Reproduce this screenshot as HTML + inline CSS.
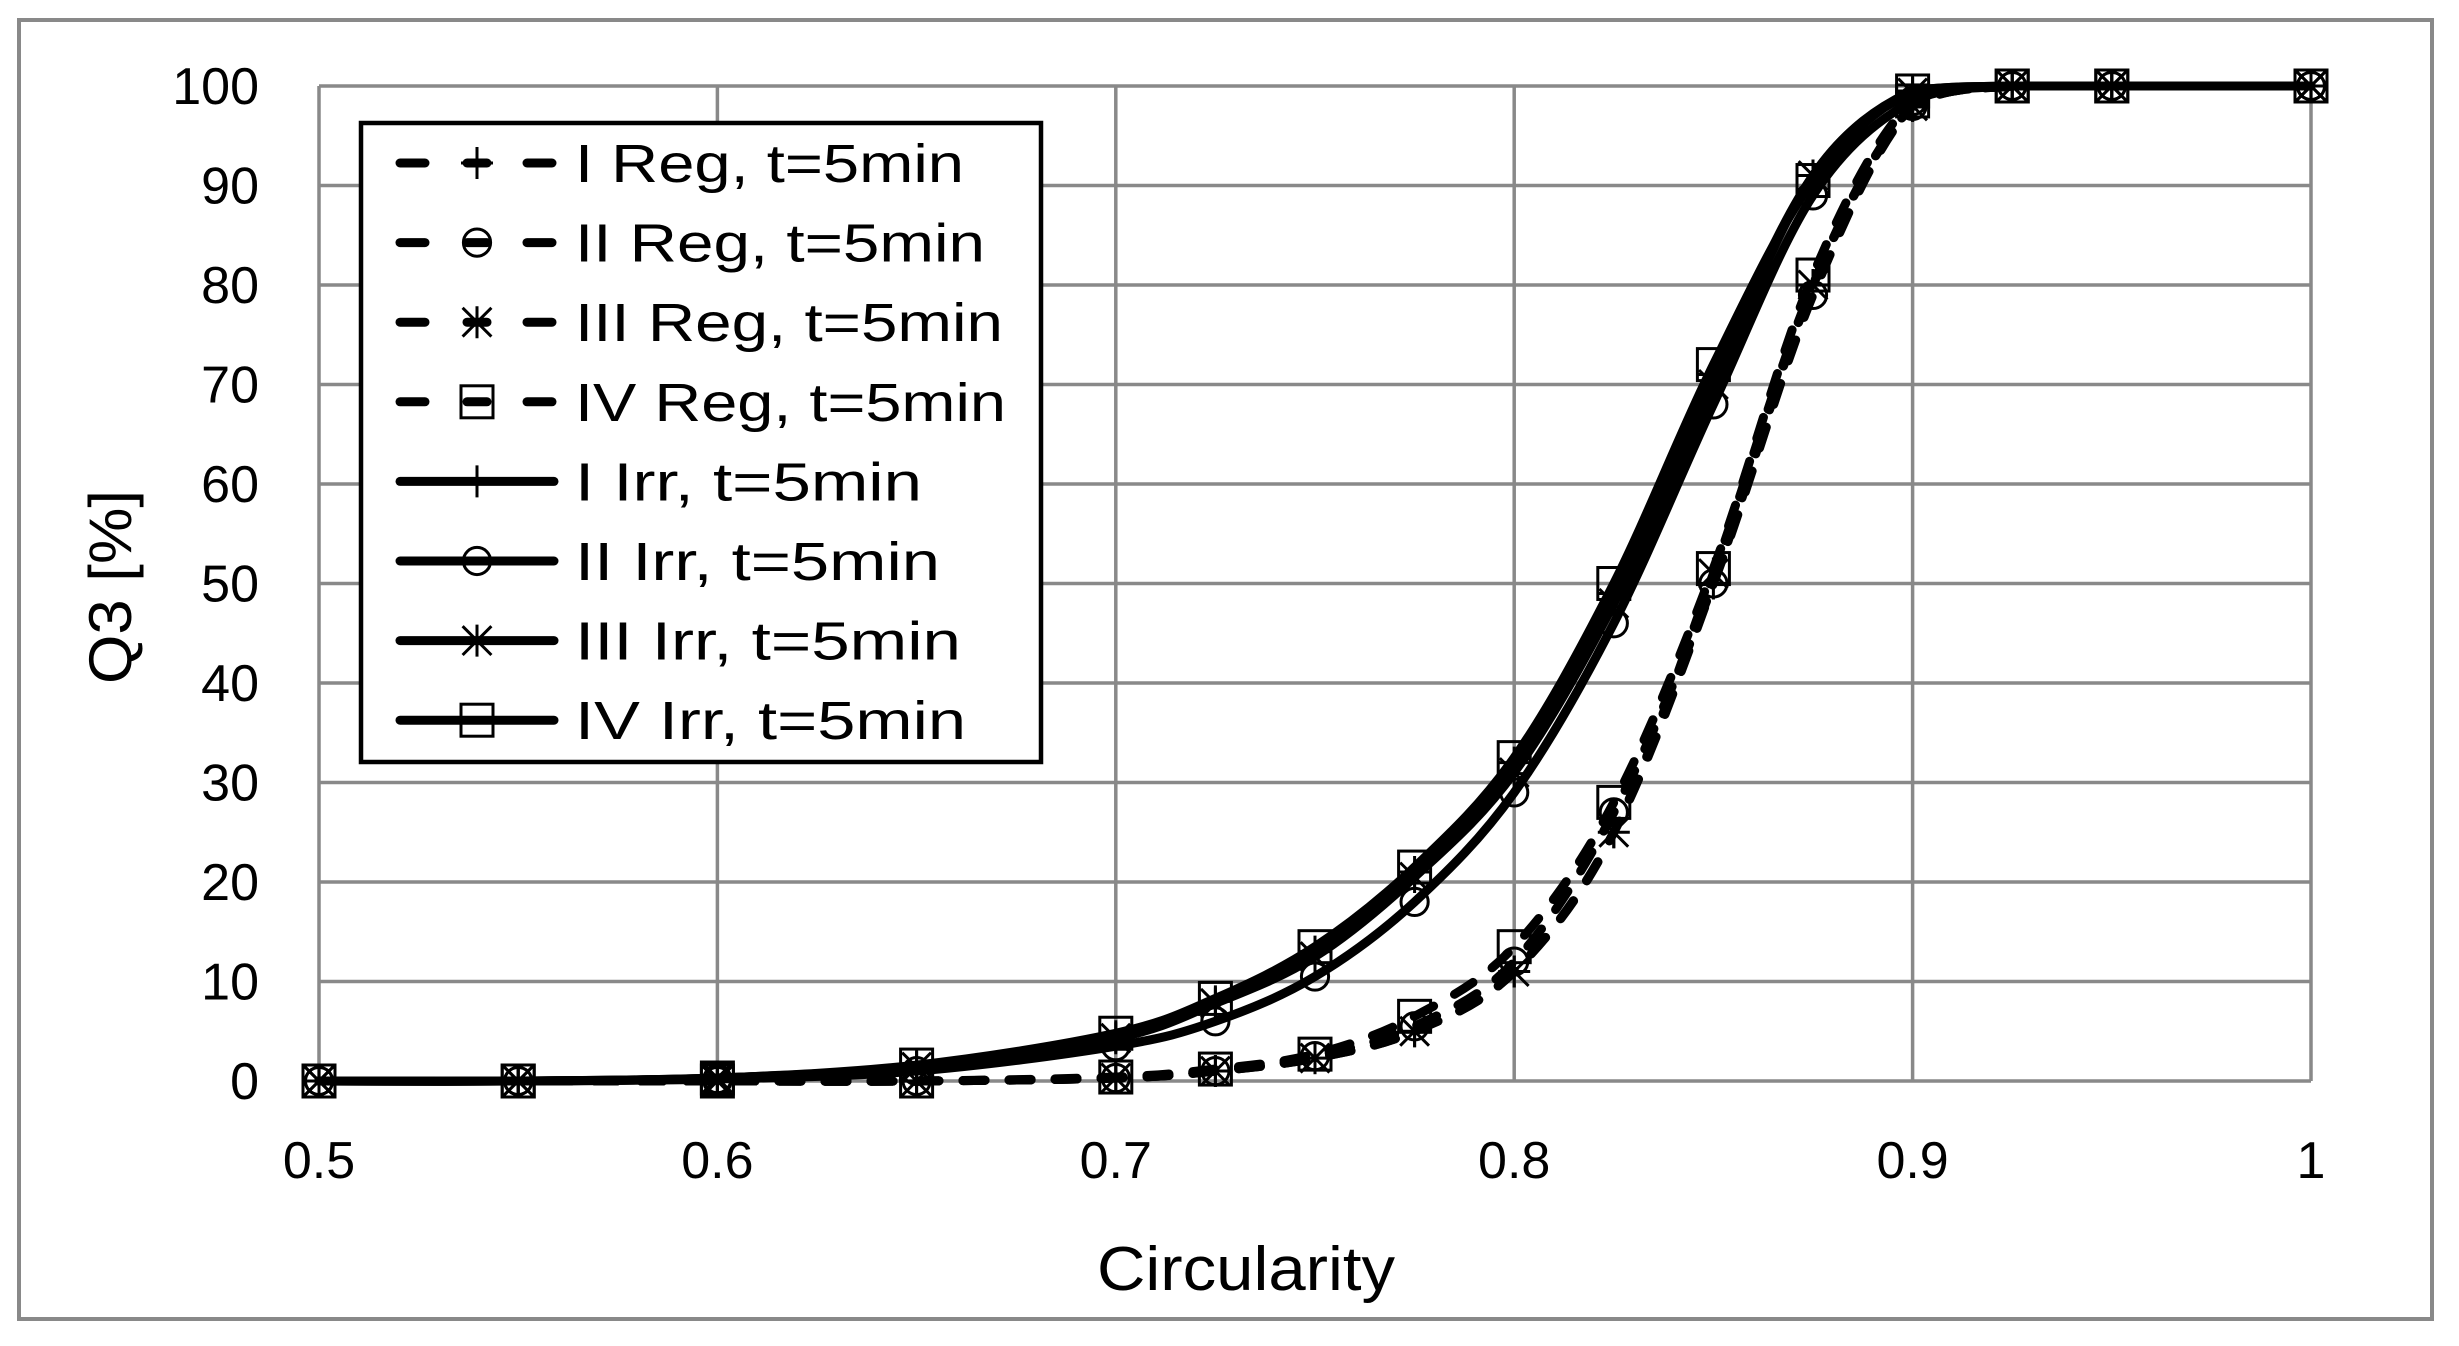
<!DOCTYPE html>
<html><head><meta charset="utf-8"><style>
html,body{margin:0;padding:0;background:#fff;}
svg{display:block;}
text{font-family:"Liberation Sans",sans-serif;fill:#000;}
</style></head><body>
<svg id="s" width="2459" height="1346" xmlns="http://www.w3.org/2000/svg">
<rect x="0" y="0" width="2459" height="1346" fill="#fff"/>
<rect x="19" y="20" width="2413" height="1299" fill="none" stroke="#898989" stroke-width="4"/>
<g id="grid" stroke="#898989" stroke-width="3.5"></g>
<g id="ylab" font-size="52" text-anchor="end"></g>
<g id="xlab" font-size="52" text-anchor="middle"></g>
<text x="1097" y="1290" font-size="62" textLength="298" lengthAdjust="spacingAndGlyphs">Circularity</text>
<text transform="translate(131,587) rotate(-90)" font-size="60" text-anchor="middle" textLength="194" lengthAdjust="spacingAndGlyphs">Q3 [%]</text>
<g id="series"></g>
<g id="legend"></g>
</svg>
<script>
var NS="http://www.w3.org/2000/svg";
function el(p,t,a,txt){var e=document.createElementNS(NS,t);for(var k in a)e.setAttribute(k,a[k]);if(txt!==undefined)e.textContent=txt;p.appendChild(e);return e;}
function X(c){return 319+(c-0.5)/0.5*1992;}
function Y(v){return 1081-v*9.95;}
var g=document.getElementById('grid');
for(var i=0;i<=10;i++){el(g,'line',{x1:319,x2:2311,y1:Y(i*10),y2:Y(i*10)});}
for(var i=0;i<=5;i++){var c=0.5+i*0.1;el(g,'line',{x1:X(c),x2:X(c),y1:Y(0),y2:Y(100)});}
var yl=document.getElementById('ylab');
for(var i=0;i<=10;i++)el(yl,'text',{x:259,y:Y(i*10)+18},String(i*10));
var xl=document.getElementById('xlab');
['0.5','0.6','0.7','0.8','0.9','1'].forEach(function(t,i){el(xl,'text',{x:X(0.5+i*0.1),y:1178},t);});
var cs=[0.5,0.55,0.6,0.65,0.7,0.725,0.75,0.775,0.8,0.825,0.85,0.875,0.9,0.925,0.95,1.0];
var data={
 rI:[0,0,0,0,0.3,1,2.3,5,11,25,50,80,98,100,100,100],
 rII:[0,0,0,0,0.3,1,2.5,5.5,12,27,50,79,98,100,100,100],
 rIII:[0,0,0,0,0.3,1,2.3,5,11,25,51,80,98,100,100,100],
 rIV:[0,0,0,0,0.4,1.2,2.7,6.5,13.5,28,51.5,81,98.5,100,100,100],
 iI:[0,0,0.3,1.5,4.5,8,13,21,32,49,71,91,99.5,100,100,100],
 iII:[0,0,0.2,1,3.5,6,10.5,18,29,46,68,89,98.5,100,100,100],
 iIII:[0,0,0.3,1.4,4.3,7.8,12.5,20.5,31,48,70,91,99.3,100,100,100],
 iIV:[0,0,0.3,1.6,4.8,8.3,13.5,21.5,32.5,50,72,90.5,99.5,100,100,100]
};
function path(v){
 var p=cs.map(function(c,i){return [X(c),Y(v[i])];});
 var d='M'+p[0][0]+','+p[0][1];
 for(var i=0;i<p.length-1;i++){
  var p0=p[Math.max(0,i-1)],p1=p[i],p2=p[i+1],p3=p[Math.min(p.length-1,i+2)];
  var t=1/6;
  var c1=[p1[0]+(p2[0]-p0[0])*t,p1[1]+(p2[1]-p0[1])*t];
  var c2=[p2[0]-(p3[0]-p1[0])*t,p2[1]-(p3[1]-p1[1])*t];
  if(c1[1]<Y(100))c1[1]=Y(100);if(c2[1]<Y(100))c2[1]=Y(100);
  d+=' C'+c1[0]+','+c1[1]+' '+c2[0]+','+c2[1]+' '+p2[0]+','+p2[1];
 }
 return d;
}
function marker(p,type,x,y,s){
 var h=s/2,a={fill:'none',stroke:'#000','stroke-width':3};
 if(type==0){el(p,'path',Object.assign({d:'M'+(x-h)+','+y+'H'+(x+h)+'M'+x+','+(y-h)+'V'+(y+h)},a));}
 else if(type==1){el(p,'circle',Object.assign({cx:x,cy:y,r:h*0.85},a));}
 else if(type==2){var r=h*0.9;el(p,'path',Object.assign({d:'M'+(x-r)+','+(y-r)+'L'+(x+r)+','+(y+r)+'M'+(x+r)+','+(y-r)+'L'+(x-r)+','+(y+r)+'M'+x+','+(y-h)+'V'+(y+h)},a));}
 else {el(p,'rect',Object.assign({x:x-h,y:y-h,width:s,height:s},a));}
}
var sg=document.getElementById('series');
var keys=['rI','rII','rIII','rIV','iI','iII','iIII','iIV'];
keys.forEach(function(k,j){
 var dashed=j<4;
 var a={d:path(data[k]),fill:'none',stroke:'#000','stroke-width':9,'stroke-linecap':'round','stroke-linejoin':'round'};
 if(dashed)a['stroke-dasharray']='22 24';
 el(sg,'path',a);
});
keys.forEach(function(k,j){
 cs.forEach(function(c,i){marker(sg,j%4,X(c),Y(data[k][i]),32);});
});
var lg=document.getElementById('legend');
el(lg,'rect',{x:361,y:123,width:680,height:639,fill:'#fff',stroke:'#000','stroke-width':4.5});
var labels=['I Reg, t=5min','II Reg, t=5min','III Reg, t=5min','IV Reg, t=5min','I Irr, t=5min','II Irr, t=5min','III Irr, t=5min','IV Irr, t=5min'];
var lens=[389,410,428,431,347,365,386,391];
labels.forEach(function(t,j){
 var y=163+j*79.6;
 if(j<4){
  el(lg,'line',{x1:400,x2:425,y1:y,y2:y,stroke:'#000','stroke-width':9,'stroke-linecap':'round'});
  el(lg,'line',{x1:467,x2:487,y1:y,y2:y,stroke:'#000','stroke-width':9,'stroke-linecap':'round'});
  el(lg,'line',{x1:527,x2:552,y1:y,y2:y,stroke:'#000','stroke-width':9,'stroke-linecap':'round'});
 } else {
  el(lg,'line',{x1:400,x2:554,y1:y,y2:y,stroke:'#000','stroke-width':9,'stroke-linecap':'round'});
 }
 marker(lg,j%4,477,y,32);
 el(lg,'text',{x:575,y:y+19,'font-size':54,textLength:lens[j],lengthAdjust:'spacingAndGlyphs'},t);
});
</script>
</body></html>
